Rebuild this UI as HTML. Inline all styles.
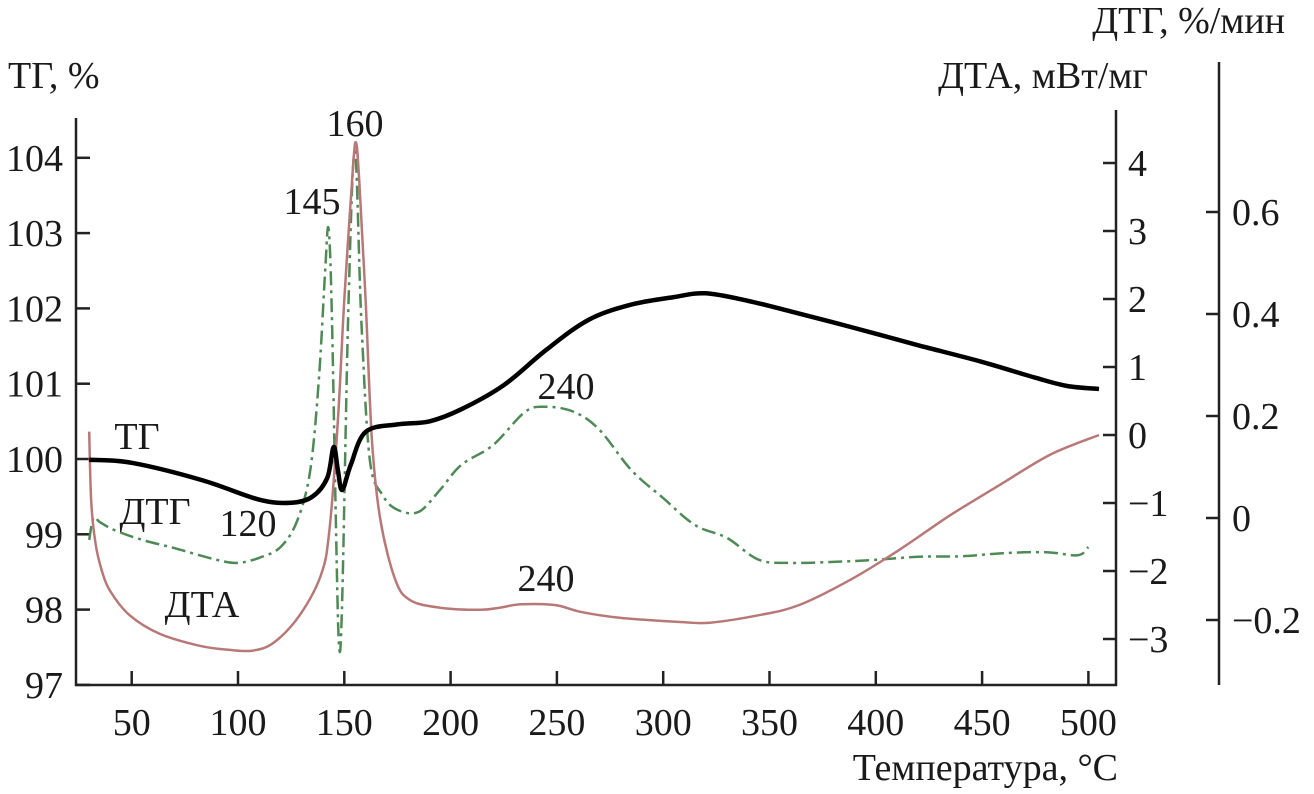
<!DOCTYPE html>
<html><head><meta charset="utf-8">
<style>
body{margin:0;background:#fff;}
svg{display:block;font-family:"Liberation Serif",serif;}
text{fill:#1a1a1a;}
</style></head>
<body>
<svg id="chart" width="1314" height="794" viewBox="0 0 1314 794" xmlns="http://www.w3.org/2000/svg"></svg>
<script>
const xTicks=[50,100,150,200,250,300,350,400,450,500];
const tgTicks=[97,98,99,100,101,102,103,104];
const dtaTicks=[-3,-2,-1,0,1,2,3,4];
const dtgTicks=[-0.2,0,0.2,0.4,0.6];
const dtgTickLabels=["\u22120.2","0","0.2","0.4","0.6"];
const dtaTickLabels=["\u22123","\u22122","\u22121","0","1","2","3","4"];

const tgT=[30,50,83,110,125,135,142,145,147,149,153,160,175,190,205,225,245,265,285,305,320,340,360,390,420,450,475,490,505];
const tgV=[99.99,99.95,99.72,99.46,99.42,99.5,99.75,100.16,99.85,99.59,99.92,100.36,100.46,100.5,100.66,100.98,101.45,101.85,102.05,102.15,102.2,102.1,101.96,101.74,101.51,101.29,101.08,100.97,100.93];

const dtaT=[30,31,33,36,40,49,63,82,96,107,117,129,139,143,147,150,154,155.5,157,160,163,167,174,181,195,214,223,233,249,261,280,308,322,345,364,388,411,435,458,482,505];
const dtaV=[0.05,-1.0,-1.6,-2.0,-2.3,-2.65,-2.92,-3.1,-3.16,-3.17,-3.05,-2.65,-2.06,-1.4,0.22,1.99,3.9,4.3,3.75,1.99,-0.07,-1.25,-2.13,-2.43,-2.54,-2.57,-2.54,-2.49,-2.5,-2.6,-2.69,-2.75,-2.76,-2.65,-2.5,-2.13,-1.69,-1.18,-0.74,-0.29,0];

const dtgT=[30,32,35,42,55,70,90,100,110,120,128,134,138,141,142.5,144,146,147.5,149,152,155,158,162,168,175,185,195,205,220,235,245,258,270,285,300,315,330,345,360,380,400,420,440,460,480,495,500];
const dtgV=[-0.043,0,-0.008,-0.024,-0.043,-0.059,-0.082,-0.088,-0.078,-0.057,-0.004,0.094,0.27,0.486,0.569,0.427,0,-0.249,-0.16,0.427,0.72,0.388,0.114,0.045,0.016,0.012,0.055,0.104,0.143,0.208,0.218,0.208,0.173,0.094,0.039,-0.014,-0.039,-0.082,-0.088,-0.086,-0.082,-0.076,-0.075,-0.069,-0.067,-0.073,-0.057];

const X=t=>131.7+(t-50)*2.126;
const YL=v=>459-(v-100)*75.3;
const YD=v=>435-v*68;
const YG=v=>518-v*510;

const svg=document.getElementById('chart');
const NS='http://www.w3.org/2000/svg';
function mk(tag,attrs,parent){const e=document.createElementNS(NS,tag);for(const k in attrs)e.setAttribute(k,attrs[k]);(parent||svg).appendChild(e);return e;}
function txt(s,x,y,anchor,size,name){const e=mk('text',{x:x,y:y,'text-anchor':anchor,'font-size':size});e.textContent=s;


return e;}

const FS=38;
const ax={stroke:'#222','stroke-width':2.5,fill:'none'};
let a=mk('path',Object.assign({d:'M76 118 V685 H1116 V110'},ax));


let a2=mk('path',Object.assign({d:'M1219 62 V685'},ax));



xTicks.forEach(t=>{const l=mk('line',{x1:X(t),x2:X(t),y1:685,y2:671,stroke:'#222','stroke-width':2.5});


txt(String(t),X(t),735,'middle',FS,'x-tick-label');});
tgTicks.forEach(v=>{const l=mk('line',{x1:76,x2:90,y1:YL(v),y2:YL(v),stroke:'#222','stroke-width':2.5});


txt(String(v),63,YL(v)+13,'end',FS,'tg-tick-label');});
dtaTicks.forEach((v,i)=>{const l=mk('line',{x1:1103,x2:1116,y1:YD(v),y2:YD(v),stroke:'#222','stroke-width':2.5});


txt(dtaTickLabels[i],1128,YD(v)+13,'start',FS,'dta-tick-label');});
dtgTicks.forEach((v,i)=>{const l=mk('line',{x1:1206,x2:1219,y1:YG(v),y2:YG(v),stroke:'#222','stroke-width':2.5});


txt(dtgTickLabels[i],1232,YG(v)+13,'start',FS,'dtg-tick-label');});

txt('ТГ, %',8,88,'start',FS,'tg-axis-title');
txt('ДТА, мВт/мг',1148,88,'end',FS,'dta-axis-title');
txt('ДТГ, %/мин',1285,33,'end',FS,'dtg-axis-title');
txt('Температура, °C',1118,780,'end',FS,'x-axis-title');

function smooth(P){let d='M'+P[0][0].toFixed(1)+' '+P[0][1].toFixed(1);
for(let i=0;i<P.length-1;i++){const p0=P[i-1]||P[i],p1=P[i],p2=P[i+1],p3=P[i+2]||p2;
const c1=[p1[0]+(p2[0]-p0[0])/6,p1[1]+(p2[1]-p0[1])/6],c2=[p2[0]-(p3[0]-p1[0])/6,p2[1]-(p3[1]-p1[1])/6];
d+=' C'+c1[0].toFixed(1)+' '+c1[1].toFixed(1)+' '+c2[0].toFixed(1)+' '+c2[1].toFixed(1)+' '+p2[0].toFixed(1)+' '+p2[1].toFixed(1);}
return d;}
function line(T,V,fy,style,name){const P=T.map((t,i)=>[X(t),fy(V[i])]);
const p=mk('path',Object.assign({d:smooth(P),fill:'none','stroke-linejoin':'round'},style));

}
line(dtgT,dtgV,YG,{stroke:'#4e8a55','stroke-width':2.5,'stroke-dasharray':'14 5 3 5'},'dtg-series');
line(dtaT,dtaV,YD,{stroke:'#b87878','stroke-width':2.5},'dta-series');
line(tgT,tgV,YL,{stroke:'#000','stroke-width':4.5},'tg-series');

txt('160',355,136,'middle',FS,'peak-label-160');
txt('145',312,214,'middle',FS,'peak-label-145');
txt('240',566,399,'middle',FS,'dtg-peak-label-240');
txt('240',546,591,'middle',FS,'dta-peak-label-240');
txt('120',248,536,'middle',FS,'dtg-min-label-120');
txt('ТГ',137,449,'middle',FS,'tg-series-label');
txt('ДТГ',155,524,'middle',FS,'dtg-series-label');
txt('ДТА',202,617,'middle',FS,'dta-series-label');
</script>
</body></html>
